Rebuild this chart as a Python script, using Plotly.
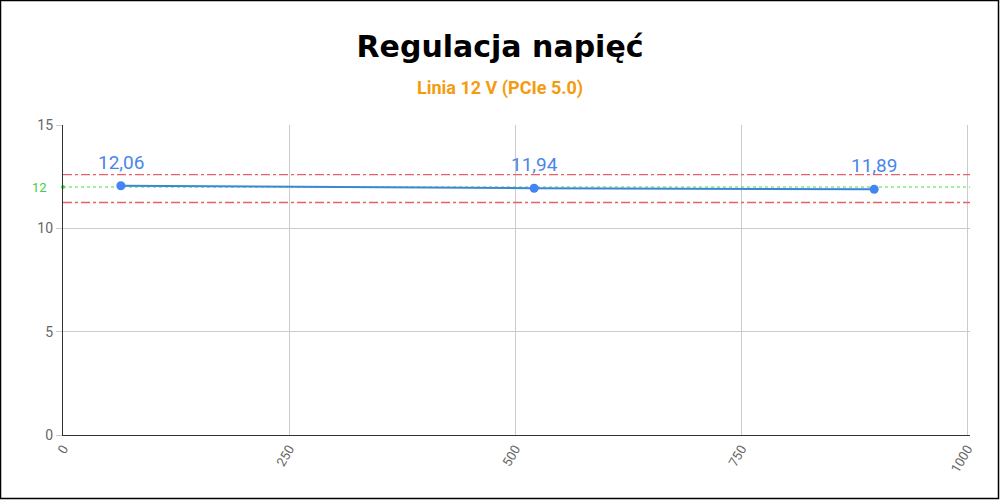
import plotly.graph_objects as go

# Data
x_vals = [64, 521, 897]
y_vals = [12.06, 11.94, 11.89]
labels = ["12,06", "11,94", "11,89"]
nominal = 12
upper_limit = 12.6
lower_limit = 11.25
y_ticks = [0, 5, 10, 15]
x_ticks = [0, 250, 500, 750, 1000]

L, R, T, B = 63, 30, 125, 65
W, H = 1000, 500
pw = W - L - R
ph = H - T - B

fig = go.Figure()

# limit lines
for v in [upper_limit, lower_limit]:
    fig.add_trace(go.Scatter(x=[0, 1003], y=[v, v], mode="lines",
                             line=dict(color="#e8606a", width=1.3, dash="dashdot"),
                             hoverinfo="skip", showlegend=False))
fig.add_trace(go.Scatter(x=[0, 1003], y=[nominal, nominal], mode="lines",
                         line=dict(color="#44dd44", width=1, dash="dot"),
                         hoverinfo="skip", showlegend=False, cliponaxis=False))
fig.add_trace(go.Scatter(x=[0], y=[nominal], mode="markers",
                         marker=dict(color="#44dd44", size=4),
                         hoverinfo="skip", showlegend=False, cliponaxis=False))

fig.add_trace(go.Scatter(
    x=x_vals, y=y_vals, mode="lines+markers",
    line=dict(color="#3b86d6", width=2),
    marker=dict(color="#4285f4", size=9),
    showlegend=False, cliponaxis=False))

annotations = [
    dict(text="<b>Linia 12 V (PCIe 5.0)</b>", xref="paper", yref="paper",
         x=(W / 2 - L) / pw, y=1 + (T - 88) / ph, xanchor="center", yanchor="middle",
         showarrow=False, font=dict(family="Roboto", size=18, color="#f39c12")),
    dict(text="12", xref="paper", yref="y", x=-14 / pw, y=nominal,
         xanchor="right", yanchor="middle", showarrow=False,
         font=dict(family="Roboto", size=13, color="#44cc44")),
]
for xv, yv, lab in zip(x_vals, y_vals, labels):
    annotations.append(dict(text=lab, x=xv, y=yv, xref="x", yref="y",
                            xanchor="center", yanchor="bottom", yshift=10, showarrow=False,
                            font=dict(family="Roboto", size=19, color="#4a86e8")))

fig.update_layout(
    width=W, height=H,
    margin=dict(l=L, r=R, t=T, b=B),
    paper_bgcolor="white", plot_bgcolor="white",
    font=dict(family="Roboto", color="#666666"),
    title=dict(text="<b>Regulacja napięć</b>", x=0.5, xanchor="center",
               y=1 - 46 / H, yanchor="middle",
               font=dict(family="DejaVu Sans", size=30, color="black")),
    annotations=annotations,
    shapes=[
        dict(type="rect", xref="paper", yref="paper",
             x0=-(L - 0.5) / pw, x1=1 + (R - 1.5) / pw,
             y0=-(B - 1.5) / ph, y1=1 + (T - 0.5) / ph,
             line=dict(color="black", width=1.5), fillcolor="rgba(0,0,0,0)", layer="above"),
    ],
)

fig.update_xaxes(range=[0, 1003], tickvals=x_ticks, ticktext=[str(v) for v in x_ticks],
                 tickangle=-60, tickfont=dict(size=13, color="#666666"),
                 showgrid=True, gridcolor="#cccccc", gridwidth=1,
                 showline=True, linecolor="#333333", linewidth=1.3,
                 zeroline=False, ticks="")
fig.update_yaxes(range=[0, 15], tickvals=y_ticks, ticktext=[str(v) for v in y_ticks],
                 tickfont=dict(size=14, color="#666666"),
                 showgrid=True, gridcolor="#cccccc", gridwidth=1,
                 showline=True, linecolor="#333333", linewidth=1.3,
                 zeroline=False, ticks="outside", ticklen=6, tickcolor="#cccccc")

fig.write_html("out.html", config={"displayModeBar": False},
               post_script="document.body.style.margin='0px';")
